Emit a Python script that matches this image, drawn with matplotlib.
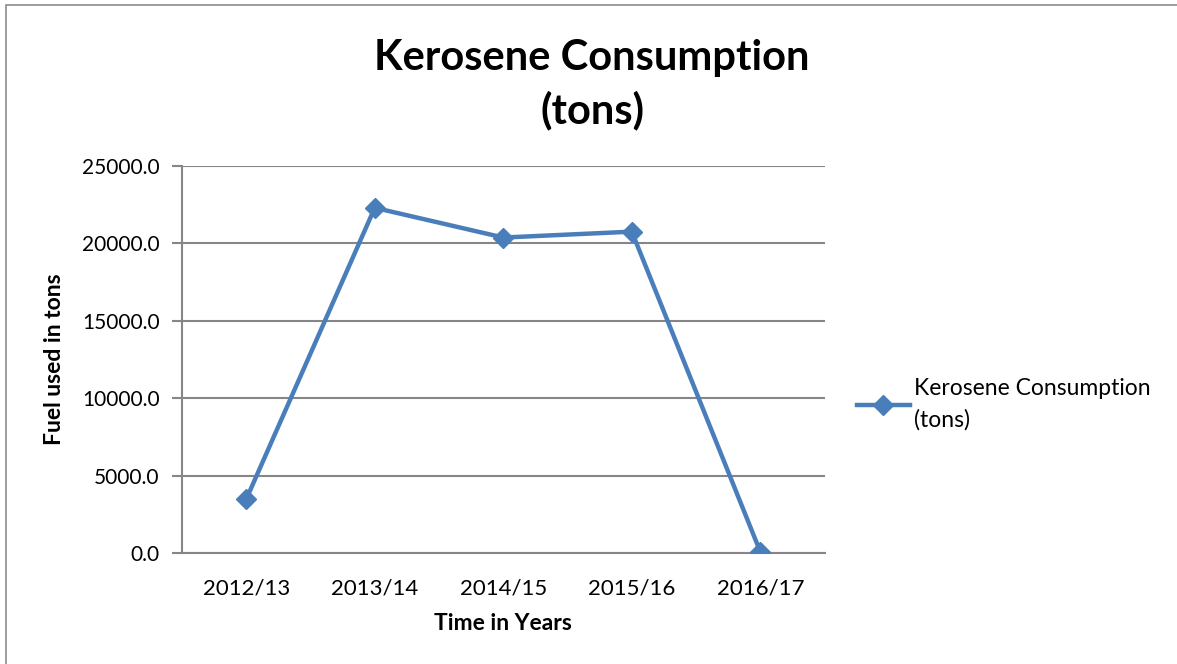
import matplotlib
matplotlib.use('Agg')
from matplotlib import pyplot as plt
from matplotlib.patches import Rectangle

plt.rcParams.update({
    'font.family': ['Lato', 'DejaVu Sans'],
    'font.size': 15,
})

years = ['2012/13', '2013/14', '2014/15', '2015/16', '2016/17']
kerosene = [3480, 22300, 20380, 20760, 80]

line_color = '#4A7EBB'
grid_color = '#868686'

fig = plt.figure(figsize=(11.77, 6.64), dpi=100)
ax = fig.add_axes([0.1546, 0.167, 0.546, 0.583])

# outer chart border (right edge falls outside the picture)
fig.patches.append(Rectangle((0.005, -0.01), 1.2, 1.003, transform=fig.transFigure,
                             fill=False, edgecolor='#8c8c8c', linewidth=1.2))

x = range(len(years))
ax.plot(x, kerosene, color=line_color, linewidth=3.2, marker='D', markersize=10,
        label='Kerosene Consumption\n(tons)', zorder=3)

ax.set_xlim(-0.5, len(years) - 0.5)
ax.set_ylim(0, 25000)
ax.set_yticks(range(0, 25001, 5000))
ax.set_yticklabels([f'{v:.1f}' for v in range(0, 25001, 5000)])
ax.set_xticks(list(x))
ax.set_xticklabels(years, fontsize=16)

ax.yaxis.grid(True, color=grid_color, linewidth=1.5)
ax.set_axisbelow(True)
for side in ['top', 'right']:
    ax.spines[side].set_visible(False)
ax.spines['left'].set_color(grid_color)
ax.spines['bottom'].set_color(grid_color)
ax.spines['left'].set_linewidth(1.5)
ax.spines['bottom'].set_linewidth(1.5)
ax.tick_params(axis='y', length=7, color=grid_color, width=1.5, pad=9)
ax.tick_params(axis='x', length=0, pad=18)

ax.set_xlabel('Time in Years', fontweight='bold', fontsize=16.5, labelpad=11)
ax.set_ylabel('Fuel used in tons', fontweight='bold', fontsize=16.5, labelpad=12)

fig.text(0.503, 0.872, 'Kerosene Consumption\n(tons)', ha='center', va='center',
         fontsize=30, fontweight='bold', linespacing=1.42)

ax.legend(loc='center left', bbox_to_anchor=(1.018, 0.384), frameon=False,
          fontsize=16.5, handlelength=2.3, handletextpad=0.2, labelspacing=0.3)
leg = ax.get_legend()
for t in leg.get_texts():
    t.set_linespacing(1.55)

fig.savefig('out.png', dpi=100)
